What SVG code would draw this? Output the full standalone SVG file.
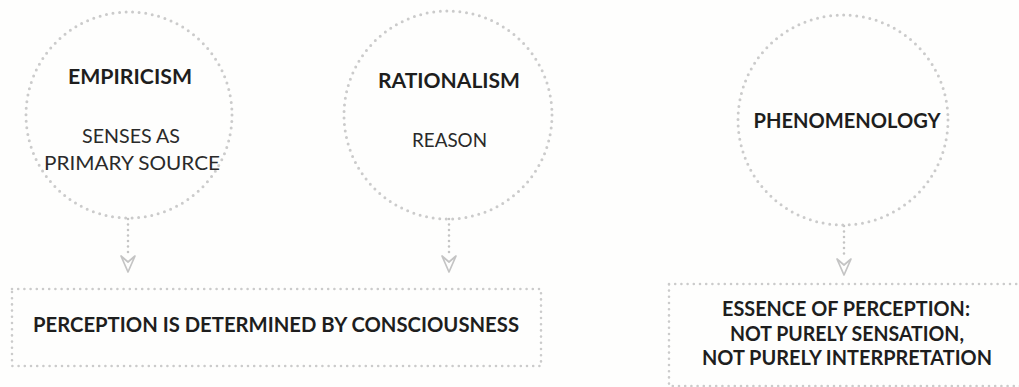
<svg xmlns="http://www.w3.org/2000/svg" width="1019" height="387" viewBox="0 0 1019 387">
  <defs>
    <style>
      .ring { fill: none; stroke: #cbcbcb; stroke-width: 3; stroke-linecap: round; stroke-dasharray: 0 6.6; }
      .box { fill: none; stroke: #cbcbcb; stroke-width: 2.6; stroke-linecap: round; stroke-dasharray: 0 6.2; }
      .link { fill: none; stroke: #c4c4c4; stroke-width: 2.6; stroke-linecap: round; stroke-dasharray: 0 5.5; }
      .head { fill: none; stroke: #c4c4c4; stroke-width: 1.7; stroke-linejoin: round; }
      .title { font-family: Lato, "Liberation Sans", sans-serif; font-weight: bold; font-size: 20px; fill: #1e1e1e; text-anchor: middle; }
      .sub { font-family: Lato, "Liberation Sans", sans-serif; font-size: 20px; fill: #2a2a2a; text-anchor: middle; }
    </style>
  </defs>
  <rect width="1019" height="387" fill="#fefefd"/>

  <!-- arrows from each school down to its conclusion -->
  <g id="connectors">
    <path class="link" d="M128 219 V255"/>
    <path class="head" d="M121 256 L128 272 L135 256 L128 262 Z"/>
    <path class="link" d="M449 219 V255"/>
    <path class="head" d="M442 256 L449 272 L456 256 L449 262 Z"/>
    <path class="link" d="M844 226 V258"/>
    <path class="head" d="M837 259 L844 275 L851 259 L844 265 Z"/>
  </g>

  <g id="empiricism">
    <circle class="ring" cx="129" cy="115" r="103"/>
    <text class="title" x="130" y="84" textLength="124" lengthAdjust="spacingAndGlyphs">EMPIRICISM</text>
    <text class="sub" x="131" y="143" textLength="98" lengthAdjust="spacingAndGlyphs">SENSES AS</text>
    <text class="sub" x="132" y="170" textLength="176" lengthAdjust="spacingAndGlyphs">PRIMARY SOURCE</text>
  </g>

  <g id="rationalism">
    <circle class="ring" cx="448" cy="115" r="104"/>
    <text class="title" x="449" y="88" textLength="142" lengthAdjust="spacingAndGlyphs">RATIONALISM</text>
    <text class="sub" x="449.5" y="147" textLength="75" lengthAdjust="spacingAndGlyphs">REASON</text>
  </g>

  <g id="phenomenology">
    <circle class="ring" cx="843" cy="120" r="105"/>
    <text class="title" x="847" y="128" textLength="187" lengthAdjust="spacingAndGlyphs">PHENOMENOLOGY</text>
  </g>

  <g id="consciousness">
    <rect class="box" x="12" y="289" width="529" height="77"/>
    <text class="title" x="276" y="332" textLength="486" lengthAdjust="spacingAndGlyphs">PERCEPTION IS DETERMINED BY CONSCIOUSNESS</text>
  </g>

  <g id="essence">
    <rect class="box" x="669" y="284" width="357" height="102"/>
    <text class="title" x="846" y="316" textLength="248" lengthAdjust="spacingAndGlyphs">ESSENCE OF PERCEPTION:</text>
    <text class="title" x="847" y="341" textLength="234" lengthAdjust="spacingAndGlyphs">NOT PURELY SENSATION,</text>
    <text class="title" x="847" y="365" textLength="290" lengthAdjust="spacingAndGlyphs">NOT PURELY INTERPRETATION</text>
  </g>
</svg>
